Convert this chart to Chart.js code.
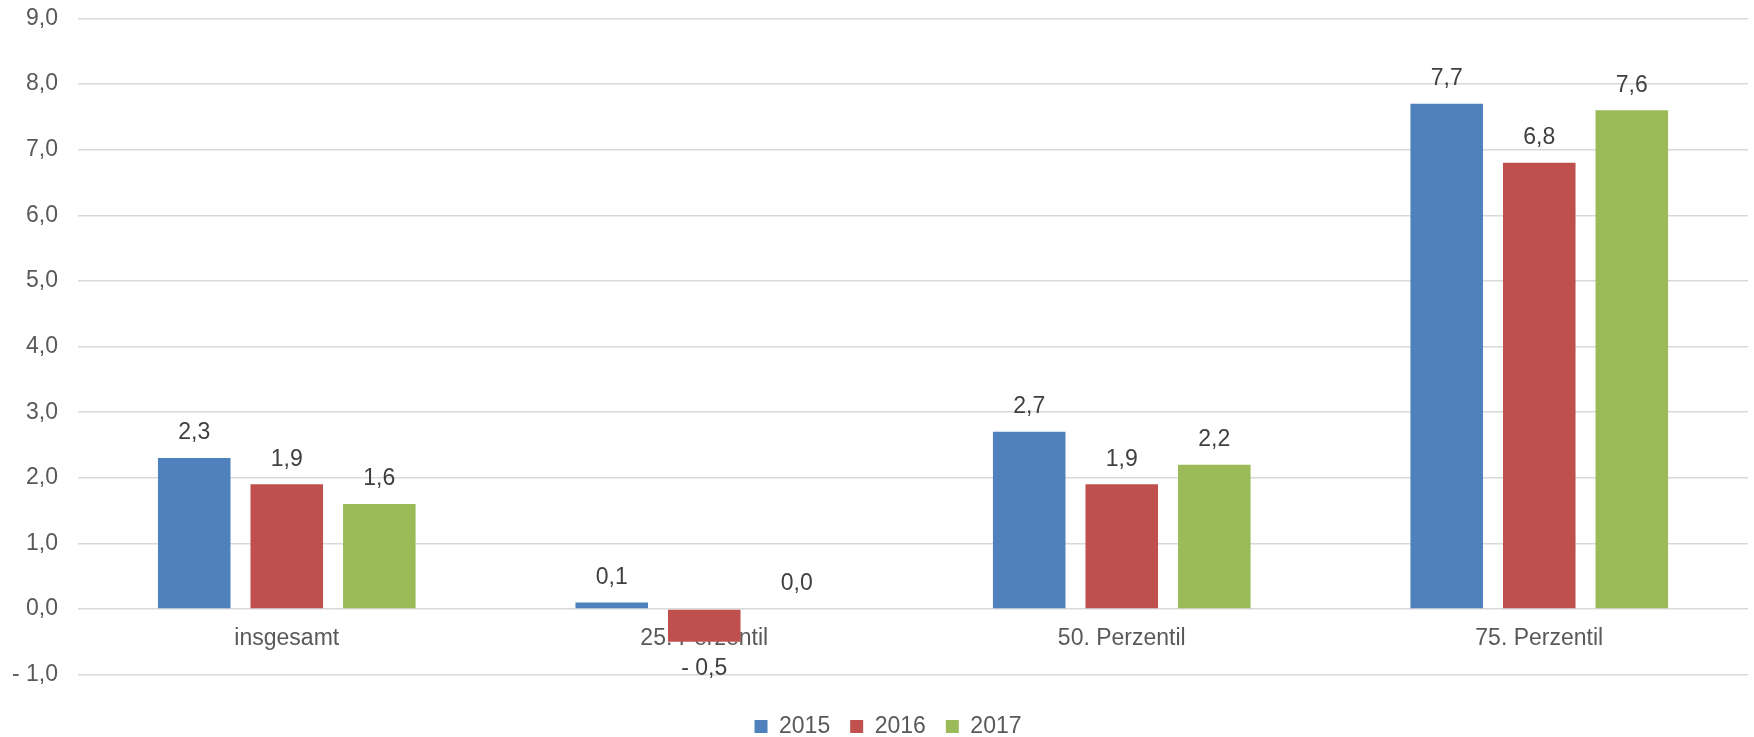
<!DOCTYPE html>
<html>
<head>
<meta charset="utf-8">
<script src="https://cdn.jsdelivr.net/npm/chart.js@4"></script>
<style>
    body { margin: 0; background: #fff; }
    #wrap { width: 1754px; height: 737px; position: relative; }
</style>
</head>
<body>
<div id="wrap"><canvas id="myChart"></canvas></div>
<script>
const categories = ['insgesamt', '25. Perzentil', '50. Perzentil', '75. Perzentil'];
const seriesNames = ['2015', '2016', '2017'];
const values2015 = [2.3, 0.1, 2.7, 7.7];
const values2016 = [1.9, -0.5, 1.9, 6.8];
const values2017 = [1.6, 0.0, 2.2, 7.6];
const seriesColors = ['#4f81bd', '#c0504d', '#9bbb59'];
const yMin = -1;
const yMax = 9;
const yStep = 1;

const fontFamily = '"Liberation Sans", Arial, sans-serif';

function formatNumber(n) {
    const s = Math.abs(n).toFixed(1).replace('.', ',');
    return n < 0 ? '- ' + s : s;
}

// draws the value above (or below, for negatives) each bar
const barLabels = {
    id: 'barLabels',
    afterDatasetsDraw(chart) {
        const ctx = chart.ctx;
        ctx.save();
        ctx.font = '23px ' + fontFamily;
        ctx.fillStyle = '#404040';
        ctx.textAlign = 'center';
        ctx.textBaseline = 'middle';
        chart.data.datasets.forEach((ds, i) => {
            const meta = chart.getDatasetMeta(i);
            meta.data.forEach((bar, j) => {
                const v = ds.data[j];
                const y = v < 0 ? bar.y + 27 : bar.y - 25;
                ctx.fillText(formatNumber(v), bar.x, y);
            });
        });
        ctx.restore();
    }
};

// nudge the legend row a bit to the left, like in the original
const legendShift = {
    id: 'legendShift',
    afterLayout(chart) {
        if (chart.legend) {
            chart.legend.left -= 25;
            chart.legend.right -= 25;
        }
    }
};

const allValues = [values2015, values2016, values2017];

const ctx = document.getElementById('myChart').getContext('2d');
new Chart(ctx, {
    type: 'bar',
    data: {
        labels: categories,
        datasets: seriesNames.map((name, i) => ({
            label: name,
            data: allValues[i],
            backgroundColor: seriesColors[i],
            borderWidth: 0,
            categoryPercentage: 0.665,
            barPercentage: 0.784
        }))
    },
    options: {
        responsive: true,
        maintainAspectRatio: false,
        animation: false,
        layout: {
            padding: { top: 0, right: 6, left: -8, bottom: -11 }
        },
        scales: {
            x: {
                position: { y: 0 },
                z: 1,
                grid: { display: false },
                border: { display: false },
                ticks: {
                    color: '#595959',
                    font: { family: fontFamily, size: 23 },
                    padding: 8,
                    maxRotation: 0
                }
            },
            y: {
                min: yMin,
                max: yMax,
                grid: {
                    color: '#d9d9d9',
                    lineWidth: 1.6,
                    drawTicks: false
                },
                border: { display: false },
                ticks: {
                    stepSize: yStep,
                    color: '#595959',
                    font: { family: fontFamily, size: 23 },
                    padding: 20,
                    callback: v => formatNumber(v)
                },
                // the tick padding is horizontal only here, keep the top tight
                afterFit: scale => {
                    scale.paddingTop = 18.5;
                    scale.paddingBottom = 14;
                }
            }
        },
        plugins: {
            legend: {
                position: 'bottom',
                fullSize: false,
                // empty title only adds a gap above the legend row
                title: { display: true, text: '', padding: 3 },
                labels: {
                    color: '#595959',
                    font: { family: fontFamily, size: 23 },
                    boxWidth: 13,
                    boxHeight: 13,
                    padding: 20
                }
            },
            tooltip: { enabled: false }
        }
    },
    plugins: [barLabels, legendShift]
});
</script>
</body>
</html>
